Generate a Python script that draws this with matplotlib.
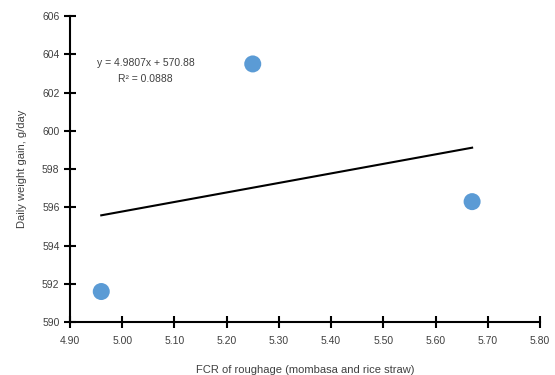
import numpy as np
import matplotlib.pyplot as plt

plt.rcParams['font.family'] = ['Liberation Sans Narrow', 'Liberation Sans', 'DejaVu Sans']

# FCR of roughage vs daily weight gain
fcr = [4.96, 5.25, 5.67]
gain = [591.6, 603.5, 596.3]
# linear trendline as reported
slope, intercept, r2 = 4.9807, 570.88, 0.0888

fig = plt.figure(figsize=(5.55, 3.75), dpi=100)
ax = fig.add_axes([0.126, 0.141, 0.847, 0.816])

ax.scatter(fcr, gain, s=150, color='#5B9BD5', zorder=3, edgecolors='none')
xl = np.array([min(fcr), max(fcr)])
ax.plot(xl, slope * xl + intercept, color='black', lw=1.5)

ax.text(5.045, 603.55, 'y = %.4fx + %.2f' % (slope, intercept), ha='center', va='center',
        fontsize=7.5, color='#404040')
ax.text(5.045, 602.7, 'R² = %.4f' % r2, ha='center', va='center',
        fontsize=7.5, color='#404040')

ax.set_xlim(4.9, 5.8)
ax.set_ylim(590, 606)
ax.set_xticks(np.arange(4.9, 5.81, 0.1))
ax.set_xticklabels(['%.2f' % v for v in np.arange(4.9, 5.81, 0.1)])
ax.set_yticks(range(590, 607, 2))

for s in ['top', 'right']:
    ax.spines[s].set_visible(False)
for s in ['left', 'bottom']:
    ax.spines[s].set_linewidth(1.5)
ax.tick_params(direction='inout', length=8, width=1.5, labelsize=7.5, labelcolor='#404040')
ax.tick_params(axis='x', pad=6)

ax.set_xlabel('FCR of roughage (mombasa and rice straw)', fontsize=8, color='#404040', labelpad=14)
ax.set_ylabel('Daily weight gain, g/day', fontsize=8, color='#404040', labelpad=11)

fig.savefig('out.png', dpi=100)
